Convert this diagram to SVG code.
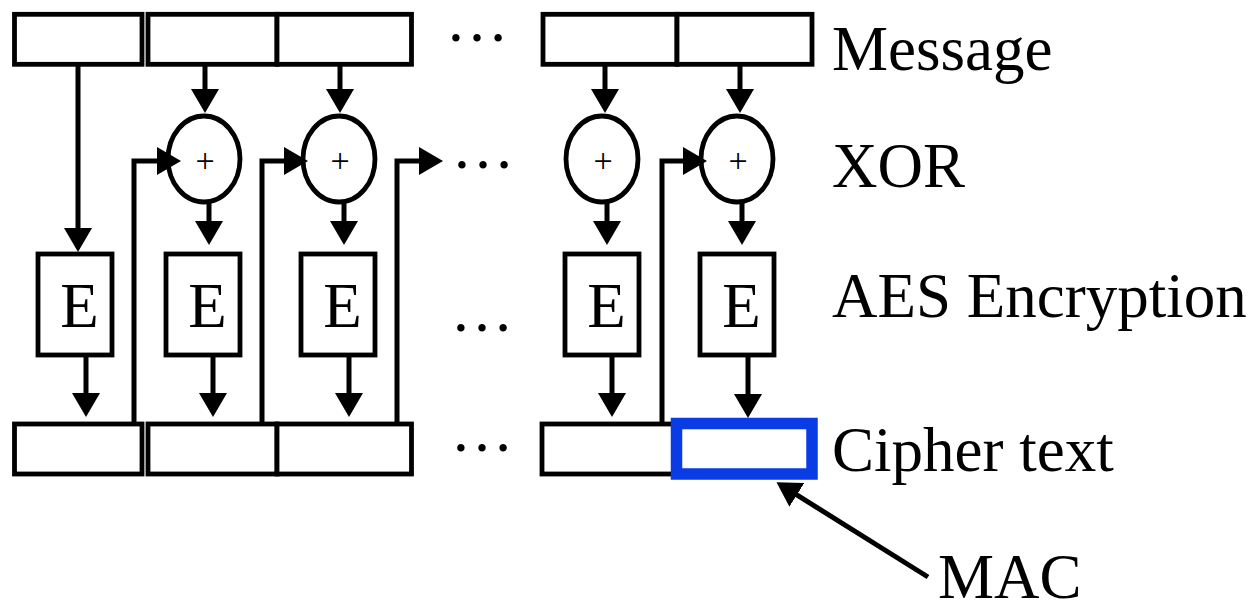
<svg xmlns="http://www.w3.org/2000/svg" width="1259" height="603" viewBox="0 0 1259 603">
<style>
.box{fill:#fff;stroke:#000;stroke-width:4.8}
.mac{fill:none;stroke:#0a3ce6;stroke-width:11.5}
.xor{fill:#fff;stroke:#000;stroke-width:4.8}
.ln{fill:none;stroke:#000;stroke-width:5;marker-end:url(#ah)}
.lab{font-family:"Liberation Serif","Times New Roman",serif;font-size:63px;fill:#000}
.e{font-family:"Liberation Serif","Times New Roman",serif;font-size:63px;fill:#000;text-anchor:middle}
.plus{font-family:"Liberation Serif","Times New Roman",serif;font-size:34px;fill:#000;text-anchor:middle}
.dots{font-family:"Liberation Serif","Times New Roman",serif;font-size:63px;fill:#000;text-anchor:middle}
</style>
<defs>
<marker id="ah" viewBox="0 0 24 28" markerUnits="userSpaceOnUse" markerWidth="24" markerHeight="28" refX="1" refY="14" orient="auto">
<path d="M0,0 L24,14 L0,28 z" fill="#000"/>
</marker>
</defs>
<g id="message-row">
<rect class="box" x="14.5" y="14.3" width="127.5" height="50"/>
<rect class="box" x="148" y="14.3" width="129" height="50"/>
<rect class="box" x="277" y="14.3" width="134.5" height="50"/>
<rect class="box" x="543" y="14.3" width="134" height="50"/>
<rect class="box" x="677" y="14.3" width="135" height="50"/>
</g>
<g id="xor-nodes">
<ellipse class="xor" cx="204" cy="159" rx="36" ry="43"/>
<text class="plus" x="205" y="172">+</text>
<ellipse class="xor" cx="339" cy="159" rx="36" ry="43"/>
<text class="plus" x="340" y="172">+</text>
<ellipse class="xor" cx="602" cy="159" rx="36" ry="43"/>
<text class="plus" x="603" y="172">+</text>
<ellipse class="xor" cx="737" cy="159" rx="36" ry="43"/>
<text class="plus" x="738" y="172">+</text>
</g>
<g id="aes-nodes">
<rect class="box" x="38" y="254" width="74" height="101"/>
<text class="e" x="79.5" y="327">E</text>
<rect class="box" x="166" y="254" width="74" height="101"/>
<text class="e" x="207.5" y="327">E</text>
<rect class="box" x="301" y="254" width="74" height="101"/>
<text class="e" x="342.5" y="327">E</text>
<rect class="box" x="565" y="254" width="74" height="101"/>
<text class="e" x="606.5" y="327">E</text>
<rect class="box" x="700" y="254" width="74" height="101"/>
<text class="e" x="741.5" y="327">E</text>
</g>
<g id="cipher-row">
<rect class="box" x="14.5" y="424" width="127.5" height="50"/>
<rect class="box" x="148" y="424" width="129" height="50"/>
<rect class="box" x="277" y="424" width="134.5" height="50"/>
<rect class="box" x="542" y="424" width="135" height="50"/>
<rect class="mac" x="676.5" y="423.5" width="135.5" height="50.5"/>
</g>
<g id="ellipses">
<text class="dots" x="477" y="41">…</text>
<text class="dots" x="483" y="168">…</text>
<text class="dots" x="482" y="331">…</text>
<text class="dots" x="482" y="451">…</text>
</g>
<g id="labels">
<text class="lab" x="832" y="70">Message</text>
<text class="lab" x="832" y="187">XOR</text>
<text class="lab" x="832" y="317">AES Encryption</text>
<text class="lab" x="832" y="471">Cipher text</text>
<text class="lab" x="938" y="598">MAC</text>
</g>
<g id="connectors">
<path class="ln" d="M78,66 V229"/>
<path class="ln" d="M205,66 V90"/>
<path class="ln" d="M340,66 V90"/>
<path class="ln" d="M605,66 V90"/>
<path class="ln" d="M740,66 V90"/>
<path class="ln" d="M209,203 V222"/>
<path class="ln" d="M344,203 V222"/>
<path class="ln" d="M607,203 V222"/>
<path class="ln" d="M742,203 V222"/>
<path class="ln" d="M86,357 V394"/>
<path class="ln" d="M213,357 V394"/>
<path class="ln" d="M349,357 V394"/>
<path class="ln" d="M612,357 V394"/>
<path class="ln" d="M748,357 V395"/>
<path class="ln" d="M134,422 V161 H158"/>
<path class="ln" d="M262,422 V161 H285"/>
<path class="ln" d="M397,422 V161 H420"/>
<path class="ln" d="M662,422 V161 H684"/>
<path class="ln" d="M928,577 L796,494.4"/>
</g>
</svg>
